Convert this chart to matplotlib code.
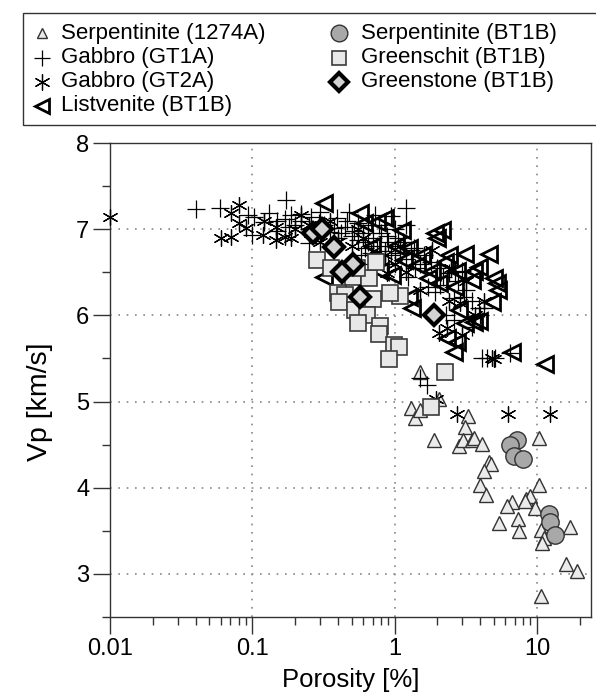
import matplotlib
matplotlib.use("Agg")
import matplotlib.pyplot as plt
from matplotlib.patches import Rectangle
from matplotlib.ticker import LogLocator, MultipleLocator, FixedLocator, NullFormatter, FixedFormatter

plt.rcParams['font.family'] = ['Liberation Sans', 'DejaVu Sans']

# ---- data (porosity %, Vp km/s) ----
serp_1274a_x = [1.50, 1.30, 1.38, 1.50, 2.04, 3.27, 3.11, 1.88, 2.82, 3.01, 3.48, 3.60,
                4.10, 4.59, 4.74, 4.23, 3.97, 4.38, 10.3, 10.3, 6.67, 6.15, 8.37, 8.93,
                9.69, 5.40, 7.35, 7.46, 10.7, 11.2, 10.8, 17.1, 16.0, 19.1, 10.7, 8.22]
serp_1274a_y = [5.34, 4.92, 4.81, 4.90, 5.03, 4.83, 4.71, 4.55, 4.48, 4.55, 4.55, 4.58,
                4.51, 4.30, 4.28, 4.19, 4.03, 3.92, 4.58, 4.03, 3.84, 3.79, 3.87, 3.90,
                3.77, 3.59, 3.64, 3.50, 3.51, 3.42, 3.36, 3.55, 3.12, 3.03, 2.74, 3.85]

gt1a_x = [0.040, 0.059, 0.094, 0.10, 0.103, 0.13, 0.148, 0.173, 0.188, 0.221, 0.26, 0.292,
          0.391, 0.378, 0.475, 0.557, 0.723, 0.252, 0.15, 0.20, 0.17, 0.12, 0.32, 0.35,
          0.42, 0.45, 0.50, 0.55, 0.60, 0.65, 0.70, 0.75, 0.80, 0.85, 0.90, 0.95,
          1.00, 1.05, 1.10, 1.20, 1.30, 1.36, 1.50, 1.60, 1.73, 1.91, 2.00, 2.20,
          2.40, 2.65, 2.80, 2.97, 3.06, 3.48, 3.90, 3.97, 3.48, 4.45, 5.06, 4.10,
          6.46, 1.68, 1.50, 1.20, 1.00, 0.90, 0.70, 2.30, 2.60, 0.65, 0.30, 0.25,
          0.40, 0.18, 0.22, 0.28, 0.46, 0.52, 0.62, 0.78, 0.88, 1.15, 1.40, 1.25,
          1.80, 2.10, 0.58, 0.68, 4.24, 2.60, 3.20, 1.20, 0.95]
gt1a_y = [7.23, 7.24, 7.17, 6.93, 7.14, 7.19, 7.10, 7.34, 7.16, 7.10, 7.14, 7.07,
          7.13, 7.01, 7.20, 7.07, 7.16, 6.84, 6.98, 7.05, 7.12, 7.08, 7.05, 6.97,
          6.95, 7.03, 6.92, 6.88, 6.95, 6.85, 6.90, 6.80, 6.95, 6.75, 6.85, 6.70,
          6.80, 6.90, 6.72, 6.65, 6.76, 6.78, 6.60, 6.70, 6.33, 6.27, 6.55, 6.45,
          6.49, 6.50, 6.40, 6.52, 6.21, 6.17, 6.08, 6.00, 5.86, 5.51, 5.51, 5.51,
          5.56, 5.19, 5.27, 7.05, 7.00, 6.60, 6.60, 6.00, 5.95, 7.05, 7.20, 7.00,
          6.90, 7.02, 7.18, 6.93, 7.10, 6.98, 6.78, 7.05, 6.92, 6.85, 6.55, 6.45,
          6.62, 6.35, 6.70, 6.72, 6.08, 6.20, 6.30, 7.25, 7.15]

gt2a_x = [0.01, 0.081, 0.071, 0.081, 0.060, 0.071, 0.091, 0.119, 0.147, 0.17, 0.187, 0.221,
          0.147, 0.12, 0.20, 0.26, 0.30, 0.35, 0.40, 0.50, 0.60, 0.70, 0.85, 1.00,
          1.20, 1.82, 0.88, 2.40, 2.90, 4.24, 2.04, 2.32, 2.97, 3.66, 4.82, 5.00,
          1.95, 2.75, 6.30, 12.4, 1.50, 1.10, 0.55, 0.25, 3.20, 2.50]
gt2a_y = [7.14, 7.28, 7.19, 7.07, 6.90, 6.91, 7.01, 6.93, 6.87, 6.91, 6.90, 7.16,
          7.02, 7.10, 7.00, 6.95, 6.85, 7.10, 6.85, 6.80, 6.90, 6.75, 6.70, 6.60,
          6.50, 6.76, 6.49, 6.17, 6.14, 6.17, 5.79, 5.85, 5.77, 6.00, 5.51, 5.49,
          5.03, 4.86, 4.86, 4.86, 6.30, 6.80, 7.00, 7.05, 6.40, 6.55]

listv_x = [0.321, 0.567, 0.605, 0.851, 0.747, 0.321, 1.26, 1.91, 2.14, 1.98, 2.40, 2.25,
           3.11, 4.59, 3.60, 3.91, 3.48, 4.98, 5.23, 5.31, 4.82, 1.82, 1.73, 2.04,
           2.65, 0.953, 0.784, 1.16, 1.26, 1.32, 2.82, 3.11, 3.60, 3.91, 2.32, 2.73,
           2.60, 6.67, 11.4, 1.55, 1.43, 2.73, 1.03, 0.689, 1.12]
listv_y = [7.30, 7.19, 7.07, 7.13, 7.08, 6.44, 6.78, 6.95, 6.99, 6.90, 6.70, 6.62,
           6.71, 6.71, 6.52, 6.56, 6.41, 6.43, 6.37, 6.29, 6.15, 6.52, 6.43, 6.38,
           6.33, 6.47, 6.52, 6.64, 6.21, 6.09, 6.06, 5.91, 5.92, 5.94, 5.74, 5.69,
           5.57, 5.57, 5.44, 6.70, 6.58, 6.52, 6.81, 6.81, 6.99]

serp_bt1b_x = [7.23, 6.46, 6.89, 7.96, 12.2, 12.4, 13.4]
serp_bt1b_y = [4.55, 4.49, 4.37, 4.33, 3.70, 3.60, 3.45]

greenschist_x = [0.283, 0.360, 0.514, 0.656, 0.397, 0.445, 0.410, 0.700, 0.531, 0.635, 0.557,
                 0.796, 0.783, 0.984, 1.07, 0.908, 1.10, 0.922, 2.25, 1.79, 0.540, 0.746]
greenschist_y = [6.64, 6.55, 6.44, 6.43, 6.26, 6.24, 6.15, 6.19, 6.06, 6.00, 5.91,
                 5.88, 5.78, 5.66, 5.63, 5.49, 6.23, 6.26, 5.34, 4.94, 6.55, 6.62]

greenstone_x = [0.269, 0.311, 0.378, 0.514, 0.424, 0.567, 1.88]
greenstone_y = [6.95, 7.00, 6.79, 6.60, 6.50, 6.21, 6.00]

x_ticks = [0.01, 0.1, 1, 10]
x_tick_labels = ['0.01', '0.1', '1', '10']
y_ticks = [3, 4, 5, 6, 7, 8]

# marker styles, in drawing order
series = [
    ('Serpentinite (1274A)', serp_1274a_x, serp_1274a_y,
     dict(marker='^', ms=10.5, mfc='#ebebeb', mec='#333333', mew=1.0)),
    ('Gabbro (GT1A)', gt1a_x, gt1a_y,
     dict(marker='+', ms=13, mec='black', mew=0.9)),
    ('Gabbro (GT2A)', gt2a_x, gt2a_y,
     dict(marker=(6, 2, 0), ms=11.5, mec='black', mew=0.9)),
    ('Listvenite (BT1B)', listv_x, listv_y,
     dict(marker='<', ms=11.5, mfc='none', mec='black', mew=2.0)),
    ('Serpentinite (BT1B)', serp_bt1b_x, serp_bt1b_y,
     dict(marker='o', ms=12.5, mfc='#a8a8a8', mec='#333333', mew=1.0)),
    ('Greenschit (BT1B)', greenschist_x, greenschist_y,
     dict(marker='s', ms=11, mfc='#e8e8e8', mec='#3a3a3a', mew=1.2)),
    ('Greenstone (BT1B)', greenstone_x, greenstone_y,
     dict(marker='D', ms=10, mfc='#d2d2d2', mec='black', mew=3.0)),
]

W, H = 596, 693
fig = plt.figure(figsize=(W / 100, H / 100), dpi=100)
ax = fig.add_axes([110 / W, 1 - 617 / H, 481 / W, 474 / H])

for label, xs, ys, st in series:
    ax.plot(xs, ys, linestyle='none', zorder=3, clip_on=False, **st)

ax.set_xscale('log')
ax.set_xlim(0.01, 24)
ax.set_ylim(2.5, 8)

ax.xaxis.set_major_locator(FixedLocator(x_ticks))
ax.xaxis.set_major_formatter(FixedFormatter(x_tick_labels))
ax.xaxis.set_minor_locator(LogLocator(base=10, subs=range(2, 10)))
ax.xaxis.set_minor_formatter(NullFormatter())
ax.yaxis.set_major_locator(FixedLocator(y_ticks))
ax.yaxis.set_minor_locator(MultipleLocator(0.5))

ax.tick_params(which='major', direction='out', length=12, width=1.0,
               color='#333333', labelsize=17, pad=3)
ax.tick_params(which='minor', direction='out', length=6, width=1.0, color='#333333')
for sp in ax.spines.values():
    sp.set_color('#333333')
    sp.set_linewidth(1.0)

for v in [0.1, 1, 10]:
    ax.axvline(v, color='#888888', lw=1.2, linestyle=(0, (1, 4)), zorder=1)
for v in [3, 4, 5, 6, 7]:
    ax.axhline(v, color='#888888', lw=1.2, linestyle=(0, (1, 4)), zorder=1)

ax.set_xlabel('Porosity [%]', fontsize=18.5, labelpad=6)
ax.set_ylabel('Vp [km/s]', fontsize=20.5)
ax.yaxis.set_label_coords(-0.118, 0.455)

# legend box above the plot, drawn in pixel coordinates
lax = fig.add_axes([0, 0, 1, 1], zorder=-1)
lax.set_xlim(0, W)
lax.set_ylim(H, 0)
lax.axis('off')
lax.add_patch(Rectangle((23, 13), 600, 112, fill=False, ec='#333333', lw=1.0))
row_y = [33, 58, 82, 106]
col_marker_x = [42, 339]
col_text_x = [61, 361]
legend_ms = {'^': 6.5, '+': 12, '<': 9.5, 'o': 12, 's': 10, 'D': 9.5}
for i, (label, xs, ys, st) in enumerate(series):
    col = 0 if i < 4 else 1
    row = i if i < 4 else i - 4
    st2 = dict(st)
    m = st2['marker']
    if isinstance(m, str):
        st2['ms'] = legend_ms.get(m, st2['ms'])
    lax.plot([col_marker_x[col]], [row_y[row]], linestyle='none', **st2)
    lax.text(col_text_x[col], row_y[row], label, fontsize=16, va='center', ha='left')

fig.savefig('out.png', dpi=100)
